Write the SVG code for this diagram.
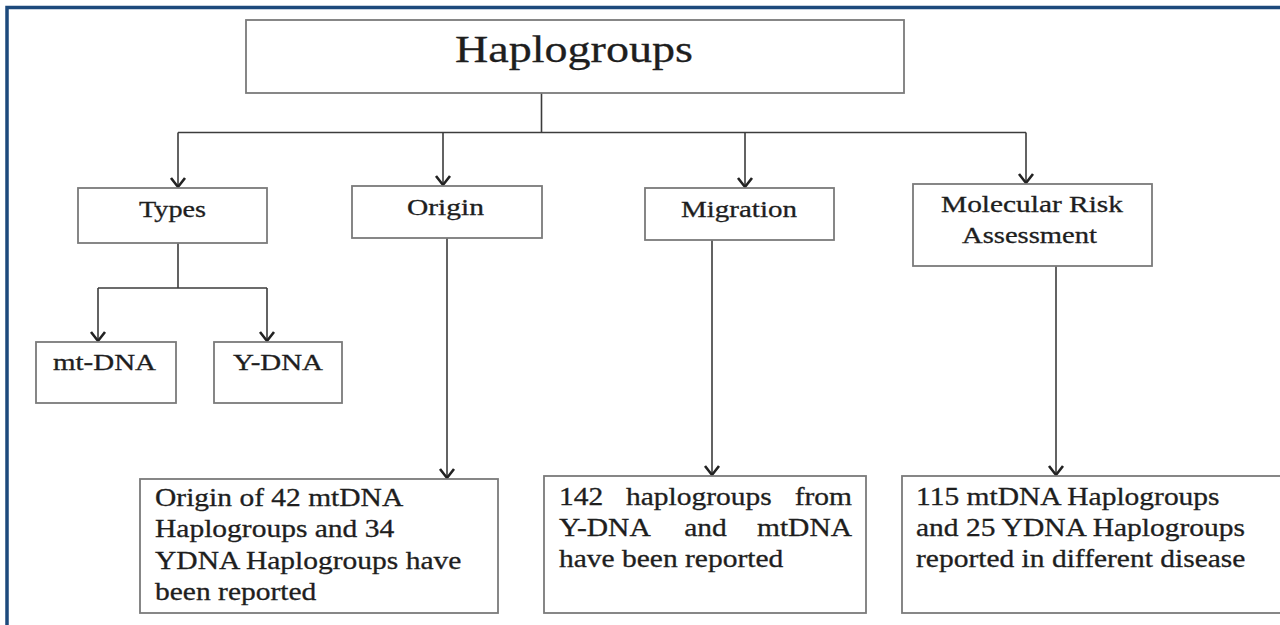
<svg xmlns="http://www.w3.org/2000/svg" width="1280" height="625" viewBox="0 0 1280 625">
<style>
.box{fill:#ffffff;stroke:#7a7a7a;stroke-width:1.8}
.ln{fill:none;stroke:#3c3c3c;stroke-width:1.6}
.t{font-family:"Liberation Serif","Times New Roman",serif;fill:#1e1e1e;stroke:#1e1e1e;stroke-width:0.3}
.lab{font-size:23px;text-anchor:middle}
.body{font-size:25px}
</style>
<defs>
<marker id="arr" viewBox="-11 -9 13 18" refX="0" refY="0" markerWidth="13" markerHeight="18" markerUnits="userSpaceOnUse" orient="auto" overflow="visible">
<path d="M-9,-7 L0,0 L-9,7" fill="none" stroke="#222222" stroke-width="2.6"/>
</marker>
</defs>
<rect width="1280" height="625" fill="#ffffff"/>
<path d="M7,625 V7.5 H1280" fill="none" stroke="#1d4a7c" stroke-width="3.5"/>

<g id="connectors">
<path class="ln" d="M541.5,93 V132.5 M178,132.5 H1026"/>
<path class="ln" d="M178,132.5 V187" marker-end="url(#arr)"/>
<path class="ln" d="M443,132.5 V185" marker-end="url(#arr)"/>
<path class="ln" d="M745,132.5 V187" marker-end="url(#arr)"/>
<path class="ln" d="M1026,132.5 V183" marker-end="url(#arr)"/>
<path class="ln" d="M178,243 V288 M98,288 H267"/>
<path class="ln" d="M98,288 V341" marker-end="url(#arr)"/>
<path class="ln" d="M267,288 V341" marker-end="url(#arr)"/>
<path class="ln" d="M447,238 V478" marker-end="url(#arr)"/>
<path class="ln" d="M712,240 V475" marker-end="url(#arr)"/>
<path class="ln" d="M1056,266 V475" marker-end="url(#arr)"/>
</g>

<g id="haplogroups">
<rect class="box" x="246" y="20" width="658" height="73"/>
<text class="t" x="574" y="62" font-size="38" text-anchor="middle" textLength="238" lengthAdjust="spacingAndGlyphs">Haplogroups</text>
</g>
<g id="types">
<rect class="box" x="78" y="188" width="189" height="55"/>
<text class="t lab" x="172.5" y="217" textLength="67" lengthAdjust="spacingAndGlyphs">Types</text>
</g>
<g id="origin">
<rect class="box" x="352" y="186" width="190" height="52"/>
<text class="t lab" x="445.5" y="215" textLength="77" lengthAdjust="spacingAndGlyphs">Origin</text>
</g>
<g id="migration">
<rect class="box" x="645" y="188" width="189" height="52"/>
<text class="t lab" x="739" y="217" textLength="116" lengthAdjust="spacingAndGlyphs">Migration</text>
</g>
<g id="risk">
<rect class="box" x="913" y="184" width="239" height="82"/>
<text class="t lab" x="1032" y="212" textLength="182" lengthAdjust="spacingAndGlyphs">Molecular Risk</text>
<text class="t lab" x="1029.5" y="243" textLength="135" lengthAdjust="spacingAndGlyphs">Assessment</text>
</g>
<g id="mtdna">
<rect class="box" x="36" y="342" width="140" height="61"/>
<text class="t lab" x="104.5" y="370" textLength="103" lengthAdjust="spacingAndGlyphs">mt-DNA</text>
</g>
<g id="ydna">
<rect class="box" x="214" y="342" width="128" height="61"/>
<text class="t lab" x="278" y="370" textLength="90" lengthAdjust="spacingAndGlyphs">Y-DNA</text>
</g>

<g id="origin-detail">
<rect class="box" x="140" y="479" width="358" height="134"/>
<g transform="scale(1.18 1)">
<text class="t body" x="131.4" y="506">Origin of 42 mtDNA</text>
<text class="t body" x="131.4" y="537">Haplogroups and 34</text>
<text class="t body" x="131.4" y="569">YDNA Haplogroups have</text>
<text class="t body" x="131.4" y="600">been reported</text>
</g>
</g>
<g id="migration-detail">
<rect class="box" x="544" y="476" width="322" height="137"/>
<g transform="scale(1.18 1)">
<text class="t body" y="505"><tspan x="473.7">142</tspan> <tspan x="530.5">haplogroups</tspan> <tspan x="673.5">from</tspan></text>
<text class="t body" y="536"><tspan x="473.7">Y-DNA</tspan> <tspan x="579.8">and</tspan> <tspan x="641.5">mtDNA</tspan></text>
<text class="t body" y="567" x="473.7">have been reported</text>
</g>
</g>
<g id="risk-detail">
<rect class="box" x="902" y="476" width="400" height="137"/>
<g transform="scale(1.18 1)">
<text class="t body" x="776.3" y="505">115 mtDNA Haplogroups</text>
<text class="t body" x="776.3" y="536">and 25 YDNA Haplogroups</text>
<text class="t body" x="776.3" y="567">reported in different disease</text>
</g>
</g>
</svg>
